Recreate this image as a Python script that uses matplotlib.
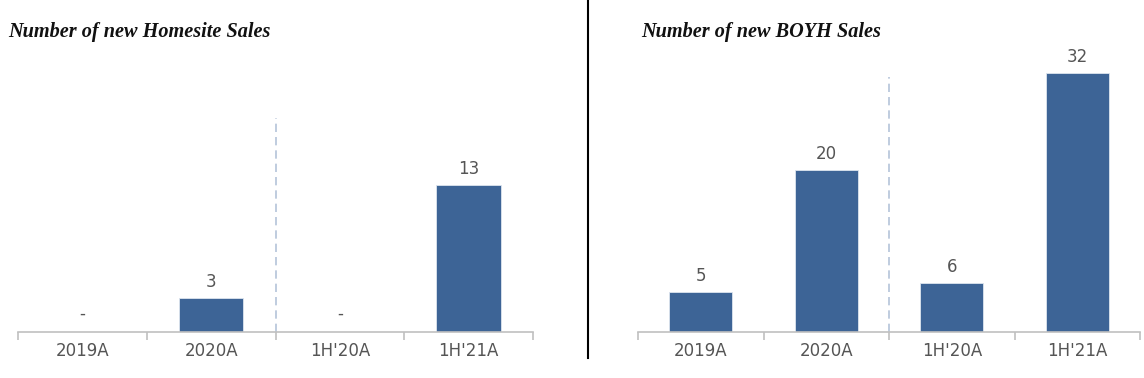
import matplotlib.pyplot as plt
from matplotlib.lines import Line2D
import numpy as np

categories = ["2019A", "2020A", "1H'20A", "1H'21A"]
homesite_sales = [0, 3, 0, 13]
boyh_sales = [5, 20, 6, 32]

BAR_COLOR = "#3d6496"
TEXT_COLOR = "#555555"
AXIS_COLOR = "#c0c0c0"
DASH_COLOR = "#b4c3d9"

W, H = 1144, 378
fig = plt.figure(figsize=(W / 100, H / 100), dpi=100)


def panel(rect, values, ymax, dash_top, title, title_x):
    ax = fig.add_axes(rect)
    x = np.arange(len(categories))
    ax.bar(x, values, width=0.5, color=BAR_COLOR, edgecolor="#dde5ef", linewidth=0.6, zorder=2)
    ax.set_xlim(-0.5, len(categories) - 0.5)
    ax.set_ylim(0, ymax)
    for xi, v in zip(x, values):
        if v == 0:
            ax.annotate("-", (xi, 0), xytext=(0, 7), textcoords="offset points",
                        ha="center", va="bottom", fontsize=12, color=TEXT_COLOR)
        else:
            ax.annotate(str(v), (xi, v), xytext=(0, 5), textcoords="offset points",
                        ha="center", va="bottom", fontsize=12, color=TEXT_COLOR)
    ax.plot([1.5, 1.5], [0, dash_top], ls=(0, (5, 3)), color=DASH_COLOR, lw=1.2, zorder=1)

    for s in ["top", "right", "left"]:
        ax.spines[s].set_visible(False)
    ax.spines["bottom"].set_color(AXIS_COLOR)
    ax.spines["bottom"].set_linewidth(1.2)
    ax.set_yticks([])
    ax.set_xticks(x)
    ax.set_xticklabels(categories, fontsize=12, color=TEXT_COLOR)
    ax.tick_params(axis="x", which="major", length=0, pad=7)
    ax.set_xticks(np.arange(-0.5, len(categories)), minor=True)
    ax.tick_params(axis="x", which="minor", length=6, color=AXIS_COLOR, width=1.2)
    fig.text(title_x / W, 1 - 32 / H, title, fontsize=14.6, family="Liberation Serif",
             weight="bold", style="italic", ha="left", va="center", color="#111111")
    return ax


bottom = (H - 332) / H
height = 272 / H
panel([18 / W, bottom, 515 / W, height], homesite_sales, 272 / 11.3, 18.9,
      "Number of new Homesite Sales", 8)
panel([638 / W, bottom, 502 / W, height], boyh_sales, 272 / 8.1, 31.5,
      "Number of new BOYH Sales", 641)

fig.add_artist(Line2D([588 / W, 588 / W], [(H - 358) / H, 1], color="black", lw=1.5))

fig.savefig("out.png", dpi=100)
